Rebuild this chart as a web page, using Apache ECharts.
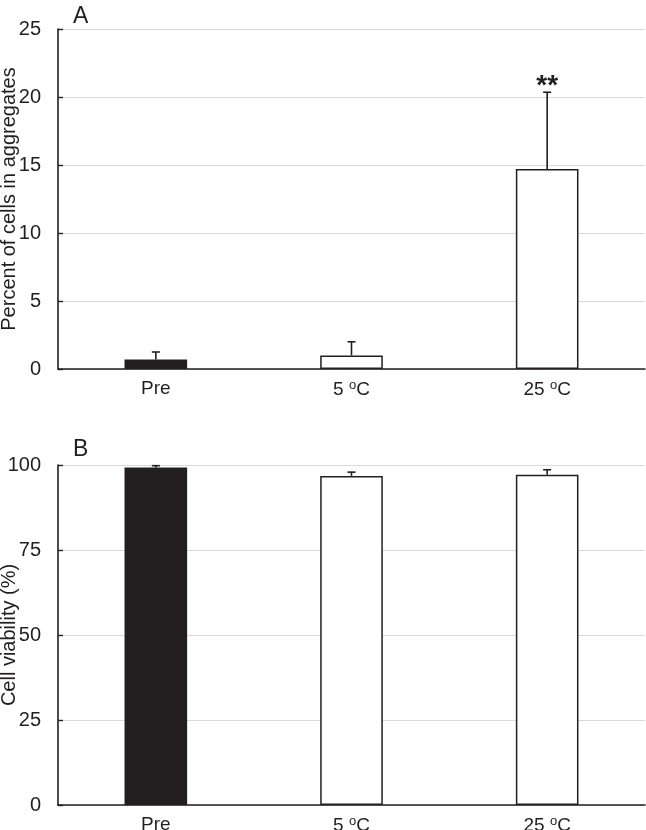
<!DOCTYPE html>
<html>
<head>
<meta charset="utf-8">
<script src="https://cdn.jsdelivr.net/npm/echarts@6/dist/echarts.min.js"></script>
<style>
  html, body { margin: 0; padding: 0; background: #fff; }
  #chart { width: 646px; height: 830px; }
</style>
</head>
<body>
<div id="chart"></div>
<script>
// data
var categories = ['Pre', '5 oC', '25 oC'];
var aggMean = [0.7, 1.0, 14.7];
var aggErr = [0.55, 1.0, 5.65];
var aggSig = ['', '', '**'];
var viabMean = [99.3, 96.8, 97.1];
var viabErr = [0.5, 1.1, 1.5];
var barFills = ['#231f20', '#ffffff', '#ffffff'];

var ink = '#231f20';
var font = '"Liberation Sans", Arial, sans-serif';

function catLabel(v) {
    var parts = v.split(' ');
    if (parts.length < 2) return v;
    return parts[0] + ' {s|' + parts[1].charAt(0) + '}' + parts[1].slice(1);
}

function xAxisFor(gridIndex) {
    return {
        type: 'category',
        gridIndex: gridIndex,
        data: categories,
        axisLine: { lineStyle: { color: ink, width: 1.6 } },
        axisTick: { inside: true, length: 5, lineStyle: { color: ink, width: 1.4 } },
        axisLabel: {
            color: ink, fontFamily: font, fontSize: 19, margin: 10,
            formatter: catLabel,
            rich: { s: { fontSize: 13, verticalAlign: 'top', padding: [0, 0, 8, 0], color: ink, fontFamily: font } }
        },
        splitLine: { show: false }
    };
}

function yAxisFor(gridIndex, max, interval, name) {
    return {
        type: 'value',
        gridIndex: gridIndex,
        min: 0, max: max, interval: interval,
        name: name,
        nameLocation: 'middle',
        nameGap: 39,
        nameMoveOverlap: false,
        nameTextStyle: { color: ink, fontFamily: font, fontSize: 20 },
        axisLine: { show: true, lineStyle: { color: ink, width: 1.6 } },
        axisTick: { show: true, inside: true, length: 5, lineStyle: { color: ink, width: 1.4 } },
        axisLabel: { color: ink, fontFamily: font, fontSize: 20, margin: 17 },
        splitLine: { show: true, lineStyle: { color: '#d9d9d9', width: 1 } }
    };
}

function barData(means) {
    return means.map(function (v, i) {
        return {
            value: v,
            itemStyle: { color: barFills[i], borderColor: ink, borderWidth: 1.5 }
        };
    });
}

function errData(means, errs, sig) {
    return means.map(function (v, i) {
        return [i, v, v + errs[i], sig ? sig[i] : ''];
    });
}

function renderErr(params, api) {
    var base = api.coord([api.value(0), api.value(1)]);
    var top = api.coord([api.value(0), api.value(2)]);
    var cap = 4;
    var children = [
        { type: 'line', shape: { x1: base[0], y1: base[1], x2: top[0], y2: top[1] }, style: { stroke: ink, lineWidth: 1.6 } },
        { type: 'line', shape: { x1: top[0] - cap, y1: top[1], x2: top[0] + cap, y2: top[1] }, style: { stroke: ink, lineWidth: 1.6 } }
    ];
    var s = api.value(3);
    if (s) {
        children.push({
            type: 'text',
            style: { text: s, x: top[0], y: top[1] - 6, align: 'center', verticalAlign: 'middle', fill: ink, font: 'bold 28px ' + font }
        });
    }
    return { type: 'group', children: children };
}

var myChart = echarts.init(document.getElementById('chart'));

var option = {
    animation: false,
    backgroundColor: '#fff',
    title: [
        { text: 'A', left: 68, top: 0, textStyle: { color: ink, fontFamily: font, fontSize: 23, fontWeight: 'normal' } },
        { text: 'B', left: 68, top: 433, textStyle: { color: ink, fontFamily: font, fontSize: 23, fontWeight: 'normal' } }
    ],
    grid: [
        { left: 58, top: 29, width: 587, height: 340, outerBoundsMode: 'none', containLabel: false },
        { left: 58, top: 465, width: 587, height: 340, outerBoundsMode: 'none', containLabel: false }
    ],
    xAxis: [xAxisFor(0), xAxisFor(1)],
    yAxis: [
        yAxisFor(0, 25, 5, 'Percent of cells in aggregates'),
        yAxisFor(1, 100, 25, 'Cell viability (%)')
    ],
    series: [
        {
            type: 'bar', xAxisIndex: 0, yAxisIndex: 0,
            barWidth: '32%',
            data: barData(aggMean)
        },
        {
            type: 'custom', xAxisIndex: 0, yAxisIndex: 0,
            renderItem: renderErr,
            data: errData(aggMean, aggErr, aggSig),
            z: 5
        },
        {
            type: 'bar', xAxisIndex: 1, yAxisIndex: 1,
            barWidth: '32%',
            data: barData(viabMean)
        },
        {
            type: 'custom', xAxisIndex: 1, yAxisIndex: 1,
            renderItem: renderErr,
            data: errData(viabMean, viabErr, null),
            z: 5
        }
    ]
};

myChart.setOption(option);
</script>
</body>
</html>
